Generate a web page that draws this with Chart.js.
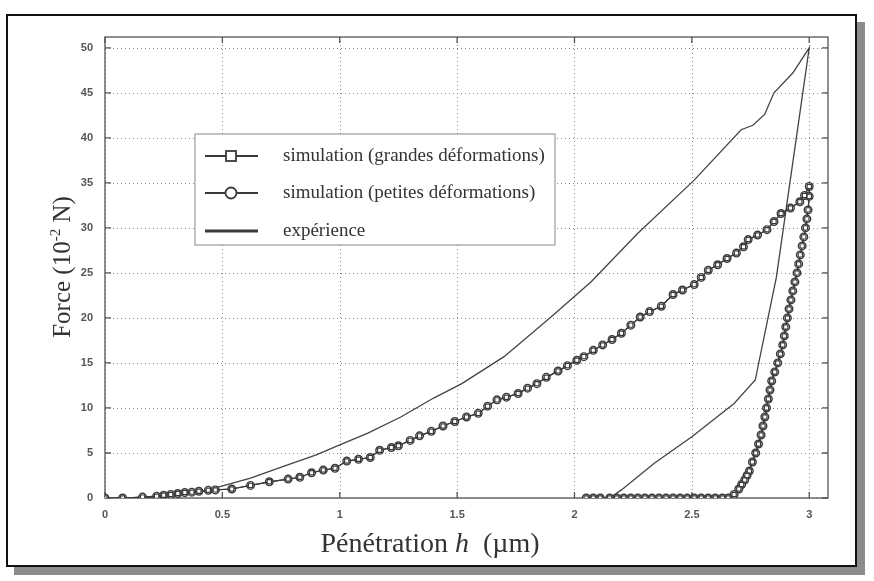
<!DOCTYPE html>
<html>
<head>
<meta charset="utf-8">
<script src="https://cdn.jsdelivr.net/npm/chart.js@4/dist/chart.umd.min.js"></script>
<style>
    html, body { margin: 0; padding: 0; background: #fff; }
    #wrap { position: relative; width: 874px; height: 581px; }
    #frame {
        position: absolute; left: 6px; top: 14px; width: 847px; height: 549px;
        border: 2px solid #111; background: #fff;
        box-shadow: 8px 8px 0 #8c8c8c;
    }
    #force-chart { position: absolute; left: 0; top: 0; }
</style>
</head>
<body>
<div id="wrap">
    <div id="frame"></div>
    <canvas id="force-chart" width="874" height="581"></canvas>
</div>
<script>
const xTicks = [0, 0.5, 1, 1.5, 2, 2.5, 3];
const yTicks = [0, 5, 10, 15, 20, 25, 30, 35, 40, 45, 50];

const legendLabels = [
    'simulation (grandes déformations)',
    'simulation (petites déformations)',
    'expérience'
];

// expérience : charge puis décharge
const expX = [0, 0.13, 0.27, 0.41, 0.49, 0.62, 0.76, 0.90, 1.00, 1.12, 1.26, 1.40, 1.52, 1.70, 1.90, 2.07,
    2.27, 2.51, 2.71, 2.76, 2.81, 2.85, 2.93, 3.00,
    2.86, 2.77, 2.68, 2.50, 2.34, 2.20, 2.15];
const expY = [0, 0.03, 0.15, 0.7, 1.25, 2.2, 3.5, 4.8, 5.9, 7.2, 9.0, 11.1, 12.7, 15.7, 20.1, 24.0,
    29.4, 35.3, 40.9, 41.4, 42.6, 45.0, 47.2, 50.0,
    24.5, 13.1, 10.5, 6.8, 3.85, 0.9, 0];

// simulation (petites déformations) : charge, décharge, palier
const simX = [0, 0.075, 0.16, 0.22, 0.25, 0.28, 0.31, 0.34, 0.37, 0.40, 0.44, 0.47, 0.54, 0.62, 0.70, 0.78,
    0.83, 0.88, 0.93, 0.98, 1.03, 1.08, 1.13, 1.17, 1.22, 1.25, 1.30, 1.34, 1.39, 1.44, 1.49, 1.54,
    1.59, 1.63, 1.67, 1.71, 1.76, 1.80, 1.84, 1.88, 1.93, 1.97, 2.01, 2.04, 2.08, 2.12, 2.16, 2.20,
    2.24, 2.28, 2.32, 2.37, 2.42, 2.46, 2.51, 2.54, 2.57, 2.61, 2.65, 2.69, 2.72, 2.74, 2.78, 2.82,
    2.85, 2.88, 2.92, 2.96, 2.98, 3.00,
    3.000, 2.995, 2.990, 2.984, 2.977, 2.970, 2.962, 2.955, 2.948, 2.939, 2.930, 2.922, 2.914, 2.907,
    2.900, 2.894, 2.887, 2.877, 2.866, 2.853, 2.840, 2.833, 2.826, 2.818, 2.811, 2.803, 2.795, 2.784,
    2.772, 2.758, 2.745, 2.735, 2.725, 2.712, 2.700, 2.680, 2.655,
    2.63, 2.60, 2.57, 2.54, 2.51, 2.48, 2.45, 2.42, 2.39, 2.36, 2.33, 2.30, 2.27, 2.24, 2.21, 2.18,
    2.15, 2.11, 2.08, 2.05];
const simY = [0, 0, 0.1, 0.2, 0.3, 0.4, 0.5, 0.6, 0.65, 0.75, 0.85, 0.9, 1.0, 1.4, 1.8, 2.1,
    2.3, 2.8, 3.1, 3.3, 4.1, 4.3, 4.5, 5.3, 5.6, 5.8, 6.4, 6.9, 7.4, 8.0, 8.5, 9.0,
    9.4, 10.2, 10.9, 11.2, 11.6, 12.2, 12.7, 13.4, 14.1, 14.7, 15.3, 15.7, 16.4, 17.0, 17.6, 18.3,
    19.2, 20.1, 20.7, 21.3, 22.6, 23.1, 23.7, 24.5, 25.3, 25.9, 26.6, 27.2, 27.9, 28.7, 29.2, 29.8,
    30.7, 31.6, 32.2, 32.9, 33.6, 34.6,
    33.5, 32.0, 31.0, 30.0, 29.0, 28.0, 27.0, 26.0, 25.0, 24.0, 23.0, 22.0, 21.0, 20.0,
    19.0, 18.0, 17.0, 16.0, 15.0, 14.0, 13.0, 12.0, 11.0, 10.0, 9.0, 8.0, 7.0, 6.0,
    5.0, 4.0, 3.0, 2.5, 2.0, 1.5, 1.0, 0.4, 0,
    0, 0, 0, 0, 0, 0, 0, 0, 0, 0, 0, 0, 0, 0, 0, 0,
    0, 0, 0, 0];

const toPoints = function (xs, ys) {
    return xs.map((x, i) => ({x: x, y: ys[i]}));
};

const INK = '#3a3a3a';
const SERIF = '"Liberation Serif", "Times New Roman", serif';

// grille pointillée, cadre, graduations intérieures, légende et titres des axes
const decorPlugin = {
    id: 'decor',
    beforeDatasetsDraw(chart) {
        const {ctx, chartArea: ca, scales} = chart;
        ctx.save();
        ctx.strokeStyle = '#8a8a8a';
        ctx.lineWidth = 1;
        ctx.setLineDash([1, 3]);
        ctx.beginPath();
        for (const v of xTicks) {
            const px = Math.round(scales.x.getPixelForValue(v)) + 0.5;
            ctx.moveTo(px, ca.top); ctx.lineTo(px, ca.bottom);
        }
        for (const v of yTicks) {
            const py = Math.round(scales.y.getPixelForValue(v)) + 0.5;
            ctx.moveTo(ca.left, py); ctx.lineTo(ca.right, py);
        }
        ctx.stroke();
        ctx.setLineDash([]);

        ctx.strokeStyle = '#555';
        ctx.lineWidth = 1.3;
        ctx.strokeRect(ca.left, ca.top, ca.right - ca.left, ca.bottom - ca.top);
        ctx.beginPath();
        for (const v of xTicks) {
            const px = scales.x.getPixelForValue(v);
            ctx.moveTo(px, ca.bottom); ctx.lineTo(px, ca.bottom - 6);
            ctx.moveTo(px, ca.top); ctx.lineTo(px, ca.top + 6);
        }
        for (const v of yTicks) {
            const py = scales.y.getPixelForValue(v);
            ctx.moveTo(ca.left, py); ctx.lineTo(ca.left + 6, py);
            ctx.moveTo(ca.right, py); ctx.lineTo(ca.right - 6, py);
        }
        ctx.stroke();
        ctx.restore();
    },
    afterDraw(chart) {
        const {ctx, chartArea: ca} = chart;
        ctx.save();

        // légende
        const bx = ca.left + 90, by = ca.top + 97, bw = 360, bh = 111;
        ctx.fillStyle = '#fff';
        ctx.fillRect(bx, by, bw, bh);
        ctx.strokeStyle = '#888';
        ctx.lineWidth = 1;
        ctx.strokeRect(bx, by, bw, bh);
        const rows = [by + 22, by + 59, by + 97];
        ctx.font = '19px ' + SERIF;
        ctx.textBaseline = 'middle';
        rows.forEach((ry, i) => {
            ctx.strokeStyle = INK;
            ctx.lineWidth = i === 2 ? 3 : 2.2;
            ctx.beginPath();
            ctx.moveTo(bx + 10, ry); ctx.lineTo(bx + 63, ry);
            ctx.stroke();
            ctx.lineWidth = 1.8;
            ctx.fillStyle = '#fff';
            if (i === 0) {
                ctx.fillRect(bx + 31, ry - 5, 10, 10);
                ctx.strokeRect(bx + 31, ry - 5, 10, 10);
            } else if (i === 1) {
                ctx.beginPath();
                ctx.arc(bx + 36, ry, 5.5, 0, Math.PI * 2);
                ctx.fill(); ctx.stroke();
            }
            ctx.fillStyle = '#333';
            ctx.fillText(legendLabels[i], bx + 88, ry);
        });

        // titre de l'axe des abscisses
        ctx.fillStyle = '#333';
        ctx.textBaseline = 'alphabetic';
        const p1 = 'Pénétration ', p3 = '  (µm)';
        ctx.font = 'italic 28px ' + SERIF;
        const wh = ctx.measureText('h').width;
        ctx.font = '28px ' + SERIF;
        const w1 = ctx.measureText(p1).width, w3 = ctx.measureText(p3).width;
        let tx = 430 - (w1 + wh + w3) / 2;
        ctx.fillText(p1, tx, 552); tx += w1;
        ctx.font = 'italic 28px ' + SERIF;
        ctx.fillText('h', tx, 552); tx += wh;
        ctx.font = '28px ' + SERIF;
        ctx.fillText(p3, tx, 552);

        // titre de l'axe des ordonnées
        ctx.translate(70, 267);
        ctx.rotate(-Math.PI / 2);
        ctx.font = '25px ' + SERIF;
        const a = 'Force (10', c = ' N)';
        const wa = ctx.measureText(a).width, wc = ctx.measureText(c).width;
        ctx.font = '15px ' + SERIF;
        const wb = ctx.measureText('-2').width;
        let ty = -(wa + wb + wc) / 2;
        ctx.font = '25px ' + SERIF;
        ctx.fillText(a, ty, 0); ty += wa;
        ctx.font = '15px ' + SERIF;
        ctx.fillText('-2', ty, -10); ty += wb;
        ctx.font = '25px ' + SERIF;
        ctx.fillText(c, ty, 0);
        ctx.restore();
    }
};

const tickFont = {family: '"Liberation Sans", Arial, sans-serif', size: 11, weight: 'bold'};

const ctx = document.getElementById('force-chart');

const forceChart = new Chart(ctx, {
    type: 'scatter',
    data: {
        datasets: [
            {
                label: legendLabels[0],
                data: toPoints(simX, simY),
                showLine: true,
                borderColor: INK,
                borderWidth: 1.2,
                pointStyle: 'rect',
                pointRadius: 3,
                pointBackgroundColor: '#fff',
                pointBorderColor: INK,
                pointBorderWidth: 1.2
            },
            {
                label: legendLabels[1],
                data: toPoints(simX, simY),
                showLine: true,
                borderColor: INK,
                borderWidth: 1.2,
                pointStyle: 'circle',
                pointRadius: 3.8,
                pointBackgroundColor: 'rgba(255,255,255,0.6)',
                pointBorderColor: INK,
                pointBorderWidth: 1.4
            },
            {
                label: legendLabels[2],
                data: toPoints(expX, expY),
                showLine: true,
                borderColor: '#444',
                borderWidth: 1.3,
                pointRadius: 0
            }
        ]
    },
    options: {
        responsive: false,
        animation: false,
        layout: {
            padding: {left: 75, right: 46, top: 37, bottom: 0}
        },
        scales: {
            x: {
                type: 'linear',
                min: 0,
                max: 3.08,
                afterBuildTicks: function (scale) {
                    scale.ticks = xTicks.map(v => ({value: v}));
                },
                afterFit: function (scale) {
                    scale.height = 83;
                },
                grid: {display: false},
                border: {display: false},
                ticks: {
                    padding: 2,
                    color: '#555',
                    font: tickFont,
                    callback: function (value) {
                        return String(value);
                    }
                }
            },
            y: {
                type: 'linear',
                min: 0,
                max: 51.2,
                afterBuildTicks: function (scale) {
                    scale.ticks = yTicks.map(v => ({value: v}));
                },
                afterFit: function (scale) {
                    scale.width = 30;
                },
                grid: {display: false},
                border: {display: false},
                ticks: {
                    padding: 4,
                    color: '#555',
                    font: tickFont,
                    callback: function (value) {
                        return String(value);
                    }
                }
            }
        },
        plugins: {
            legend: {display: false},
            tooltip: {enabled: false},
            title: {display: false}
        }
    },
    plugins: [decorPlugin]
});
</script>
</body>
</html>
